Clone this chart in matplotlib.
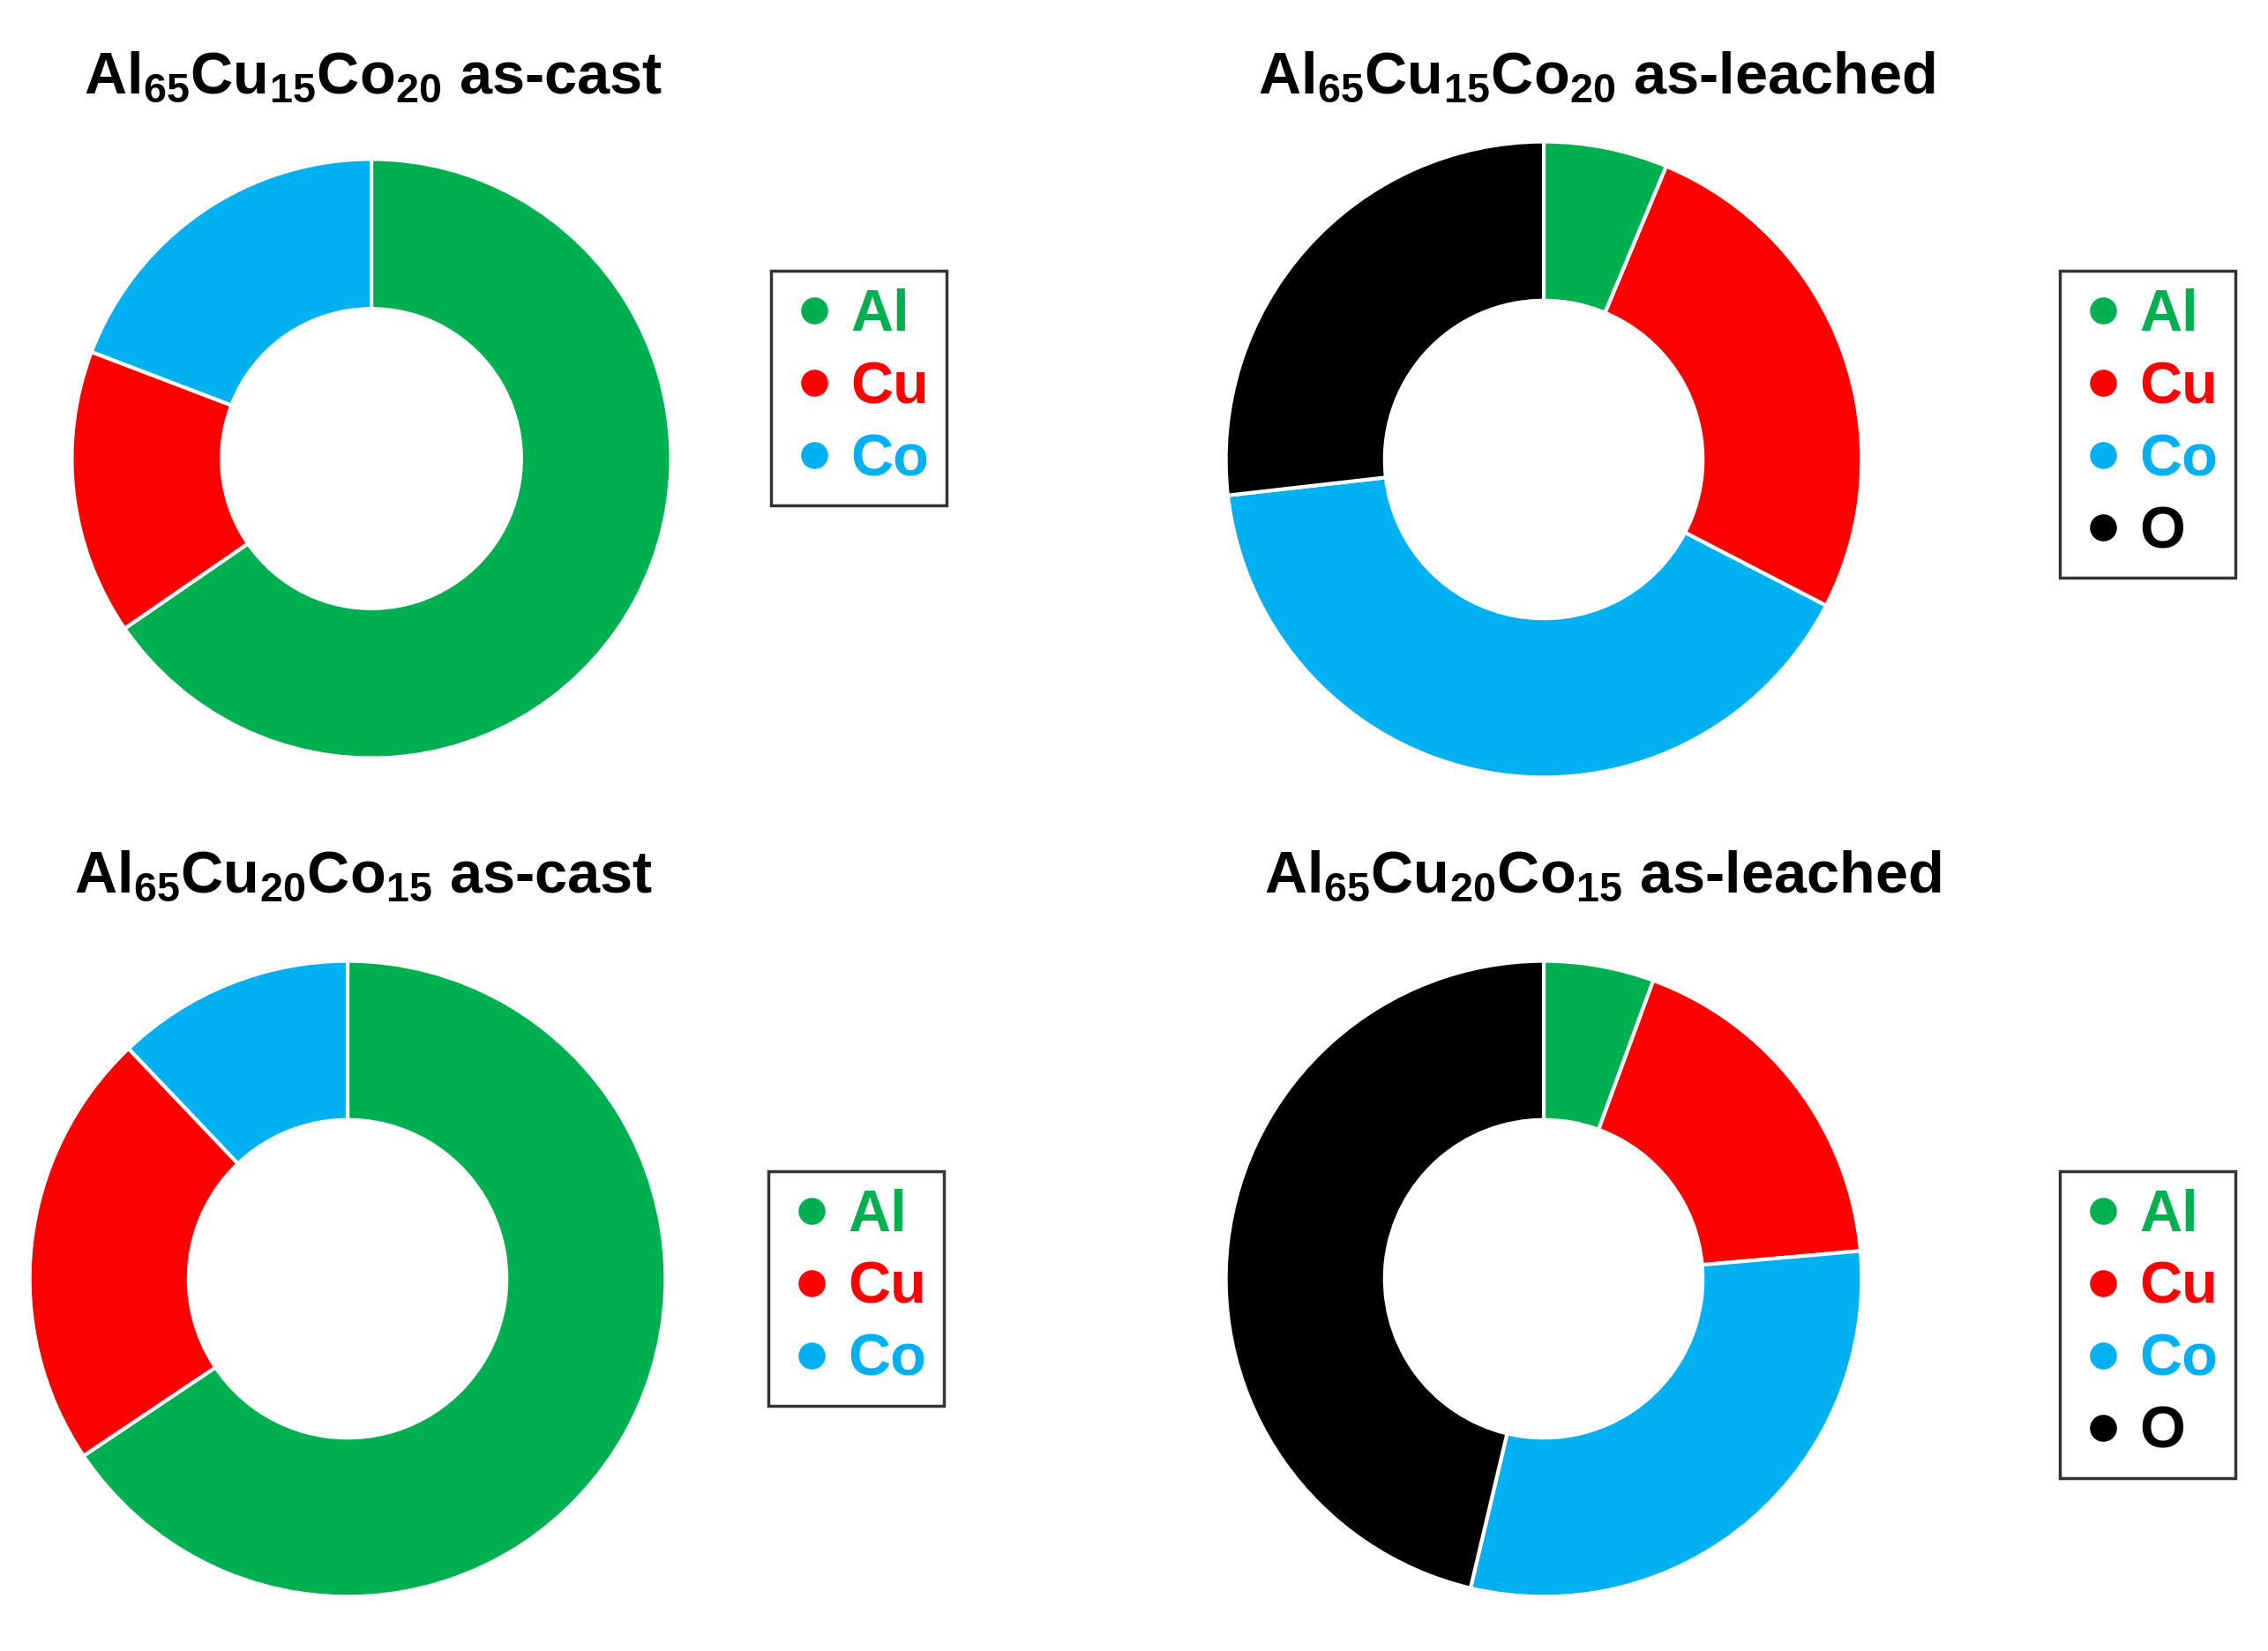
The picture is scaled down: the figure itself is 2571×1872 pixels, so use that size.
import matplotlib
matplotlib.use('Agg')
import matplotlib.pyplot as plt
from matplotlib.lines import Line2D

plt.rcParams['font.family'] = 'Liberation Sans'
plt.rcParams['font.weight'] = 'bold'
plt.rcParams['mathtext.fontset'] = 'custom'
plt.rcParams['mathtext.rm'] = 'Liberation Sans:bold'
plt.rcParams['mathtext.default'] = 'rm'

# element fractions (at.%), read off the donuts
elements3 = ['Al', 'Cu', 'Co']
elements4 = ['Al', 'Cu', 'Co', 'O']
colors = ['#00B050', '#FF0000', '#00B0F0', '#000000']

cast_15_20 = [65.4, 15.4, 19.2]
leached_15_20 = [6.3, 26.3, 40.6, 26.8]
cast_20_15 = [65.6, 22.3, 12.1]
leached_20_15 = [5.6, 18.0, 30.1, 46.3]

titles = [r'Al$_{65}$Cu$_{15}$Co$_{20}$ as-cast',
          r'Al$_{65}$Cu$_{15}$Co$_{20}$ as-leached',
          r'Al$_{65}$Cu$_{20}$Co$_{15}$ as-cast',
          r'Al$_{65}$Cu$_{20}$Co$_{15}$ as-leached']

W, H = 2571, 1872
fig = plt.figure(figsize=(W / 100, H / 100), dpi=100)

# (centre x, centre y, radius) in pixels, title pos, legend top-left
panels = [
    (cast_15_20, elements3, (421, 520, 343), (423, 88), (874, 307)),
    (leached_15_20, elements4, (1750, 521, 364), (1810, 88), (2335, 307)),
    (cast_20_15, elements3, (394, 1450, 364), (412, 995), (871, 1328)),
    (leached_20_15, elements4, (1750, 1450, 364), (1817, 995), (2335, 1328)),
]

for (vals, names, (cx, cy, r), (tx, ty), (lx, ly)), title in zip(panels, titles):
    ax = fig.add_axes([(cx - r) / W, (H - cy - r) / H, 2 * r / W, 2 * r / H])
    ax.pie(vals, colors=colors[:len(vals)], startangle=90, counterclock=False,
           radius=1, wedgeprops=dict(width=0.5, edgecolor='white', linewidth=3))
    ax.set_xlim(-1.01, 1.01)
    ax.set_ylim(-1.01, 1.01)
    ax.axis('off')

    fig.text(tx / W, 1 - ty / H, title, ha='center', va='center',
             fontsize=48, fontweight='bold')

    handles = [Line2D([], [], marker='o', linestyle='', color=c, markersize=21)
               for c in colors[:len(names)]]
    leg = ax.legend(handles, names, loc='upper left',
                    bbox_to_anchor=(lx / W, 1 - ly / H),
                    bbox_transform=fig.transFigure,
                    prop={'family': 'Liberation Sans', 'weight': 'bold', 'size': 48},
                    labelcolor=colors[:len(names)], frameon=True, fancybox=False,
                    handlelength=0.87, handletextpad=0.18, labelspacing=0.3,
                    borderpad=0.3, borderaxespad=0)
    frame = leg.get_frame()
    frame.set_edgecolor('black')
    frame.set_linewidth(2.5)

fig.savefig('out.png', dpi=100)
